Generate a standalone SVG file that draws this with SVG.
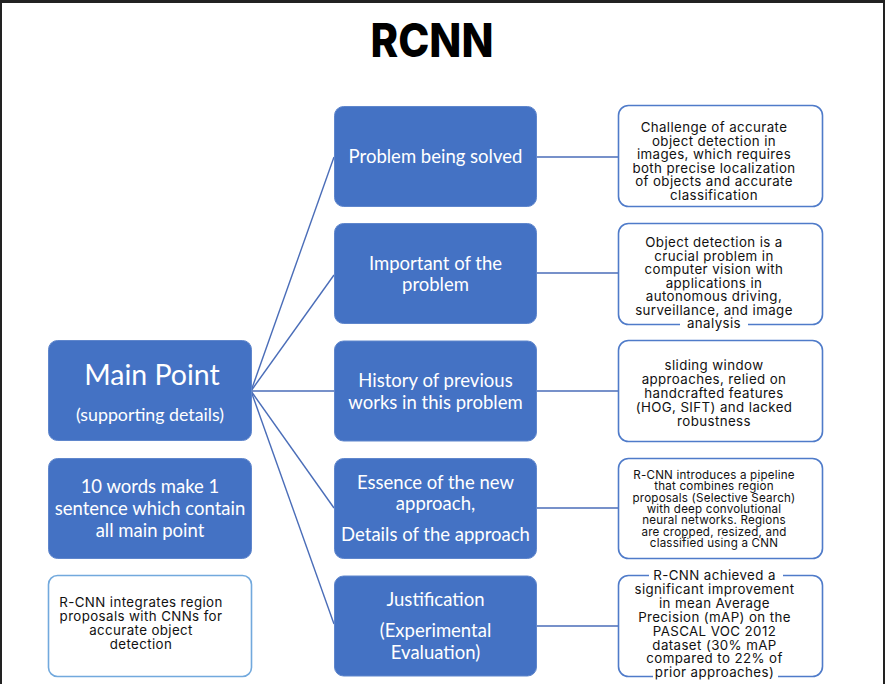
<svg xmlns="http://www.w3.org/2000/svg" width="885" height="684" viewBox="0 0 885 684">
<style>
.blue{fill:#4472c4;stroke:#5f86cc;stroke-width:1}
.rbox{fill:#ffffff;stroke:#4f7bc9;stroke-width:1.6}
.lbox{fill:#ffffff;stroke:#72a9dd;stroke-width:1.6}
.mid{font-family:Lato,"Open Sans",sans-serif;font-size:18.5px;fill:#ffffff;text-anchor:middle;dominant-baseline:central}
.rt{font-family:Inter,"Liberation Sans",sans-serif;font-size:13.3px;fill:#111111;text-anchor:middle;dominant-baseline:central;letter-spacing:0.4px}
.rs{font-family:Inter,"Liberation Sans",sans-serif;font-size:11.6px;fill:#111111;text-anchor:middle;dominant-baseline:central;letter-spacing:0.2px}
.conn line{stroke:#4a6db8;stroke-width:1.4}
</style>
<rect x="0" y="0" width="885" height="684" fill="#222222"/>
<rect x="2" y="3" width="881" height="681" fill="#ffffff"/>
<text x="432" y="57" font-family="Inter,'Liberation Sans',sans-serif" font-weight="800" font-size="46" fill="#000000" text-anchor="middle" textLength="123" lengthAdjust="spacingAndGlyphs">RCNN</text>

<g id="connectors" class="conn">
<line x1="251" y1="391" x2="334" y2="157"/>
<line x1="251" y1="391" x2="334" y2="275"/>
<line x1="251" y1="391" x2="334" y2="391"/>
<line x1="251" y1="391" x2="334" y2="508"/>
<line x1="251" y1="391" x2="334" y2="624"/>
<line x1="537" y1="157" x2="618" y2="157"/>
<line x1="537" y1="273" x2="618" y2="273"/>
<line x1="537" y1="391" x2="618" y2="391"/>
<line x1="537" y1="508" x2="618" y2="508"/>
<line x1="537" y1="626" x2="618" y2="626"/>
</g>

<g id="main-point">
<rect class="blue" x="48.5" y="340.5" width="203" height="100" rx="9"/>
<text x="152" y="374" font-family="Lato,'Open Sans',sans-serif" font-size="28.5" fill="#ffffff" text-anchor="middle" dominant-baseline="central">Main Point</text>
<text x="150" y="414" class="mid" style="font-size:17.8px">(supporting details)</text>
</g>
<g id="ten-words">
<rect class="blue" x="48.5" y="458.5" width="203" height="100" rx="9"/>
<text class="mid" x="150" y="486">10 words make 1</text>
<text class="mid" x="150" y="508">sentence which contain</text>
<text class="mid" x="150" y="530">all main point</text>
</g>
<g id="summary">
<rect class="lbox" x="48.5" y="575.5" width="203" height="101" rx="9"/>
<text class="rt" x="141" y="602">R-CNN integrates region</text>
<text class="rt" x="141" y="616">proposals with CNNs for</text>
<text class="rt" x="141" y="630">accurate object</text>
<text class="rt" x="141" y="644">detection</text>
</g>

<g id="problem">
<rect class="blue" x="334.5" y="106.5" width="202" height="100" rx="9"/>
<text class="mid" x="435.5" y="156">Problem being solved</text>
</g>
<g id="importance">
<rect class="blue" x="334.5" y="223.5" width="202" height="100" rx="9"/>
<text class="mid" x="435.5" y="263">Important of the</text>
<text class="mid" x="435.5" y="284">problem</text>
</g>
<g id="history">
<rect class="blue" x="334.5" y="341" width="202" height="100" rx="9"/>
<text class="mid" x="435.5" y="380">History of previous</text>
<text class="mid" x="435.5" y="402">works in this problem</text>
</g>
<g id="essence">
<rect class="blue" x="334.5" y="458.5" width="202" height="100" rx="9"/>
<text class="mid" x="435.5" y="482">Essence of the new</text>
<text class="mid" x="435.5" y="503">approach,</text>
<text class="mid" x="435.5" y="534">Details of the approach</text>
</g>
<g id="justification">
<rect class="blue" x="334.5" y="576" width="202" height="100" rx="9"/>
<text class="mid" x="435.5" y="599">Justification</text>
<text class="mid" x="435.5" y="630">(Experimental</text>
<text class="mid" x="435.5" y="652">Evaluation)</text>
</g>

<g id="problem-detail">
<rect class="rbox" x="618.5" y="105.5" width="204" height="101" rx="10"/>
<text class="rt" x="714" y="127">Challenge of accurate</text>
<text class="rt" x="714" y="140.6">object detection in</text>
<text class="rt" x="714" y="154.2">images, which requires</text>
<text class="rt" x="714" y="167.8">both precise localization</text>
<text class="rt" x="714" y="181.4">of objects and accurate</text>
<text class="rt" x="714" y="195">classification</text>
</g>
<g id="importance-detail">
<rect class="rbox" x="618.5" y="223.5" width="204" height="101" rx="10"/>
<rect x="680" y="318" width="68" height="12" fill="#ffffff"/>
<text class="rt" x="714" y="242">Object detection is a</text>
<text class="rt" x="714" y="255.5">crucial problem in</text>
<text class="rt" x="714" y="269">computer vision with</text>
<text class="rt" x="714" y="282.5">applications in</text>
<text class="rt" x="714" y="296">autonomous driving,</text>
<text class="rt" x="714" y="309.5">surveillance, and image</text>
<text class="rt" x="714" y="323">analysis</text>
</g>
<g id="history-detail">
<rect class="rbox" x="618.5" y="340.5" width="204" height="101" rx="10"/>
<text class="rt" x="714" y="365">sliding window</text>
<text class="rt" x="714" y="379">approaches, relied on</text>
<text class="rt" x="714" y="393">handcrafted features</text>
<text class="rt" x="714" y="407">(HOG, SIFT) and lacked</text>
<text class="rt" x="714" y="421">robustness</text>
</g>
<g id="essence-detail">
<rect class="rbox" x="618.5" y="458.5" width="204" height="100" rx="10"/>
<text class="rs" x="714" y="475">R-CNN introduces a pipeline</text>
<text class="rs" x="714" y="486.3">that combines region</text>
<text class="rs" x="714" y="497.6">proposals (Selective Search)</text>
<text class="rs" x="714" y="508.9">with deep convolutional</text>
<text class="rs" x="714" y="520.2">neural networks. Regions</text>
<text class="rs" x="714" y="531.5">are cropped, resized, and</text>
<text class="rs" x="714" y="542.8">classified using a CNN</text>
</g>
<g id="justification-detail">
<rect class="rbox" x="618.5" y="575.5" width="204" height="101" rx="10"/>
<rect x="649" y="570" width="134" height="12" fill="#ffffff"/>
<rect x="653" y="671" width="125" height="12" fill="#ffffff"/>
<text class="rt" x="714.5" y="575">R-CNN achieved a</text>
<text class="rt" x="714.5" y="588.9">significant improvement</text>
<text class="rt" x="714.5" y="602.8">in mean Average</text>
<text class="rt" x="714.5" y="616.7">Precision (mAP) on the</text>
<text class="rt" x="714.5" y="630.6">PASCAL VOC 2012</text>
<text class="rt" x="714.5" y="644.5">dataset (30% mAP</text>
<text class="rt" x="714.5" y="658.4">compared to 22% of</text>
<text class="rt" x="714.5" y="672.3">prior approaches)</text>
</g>
</svg>
